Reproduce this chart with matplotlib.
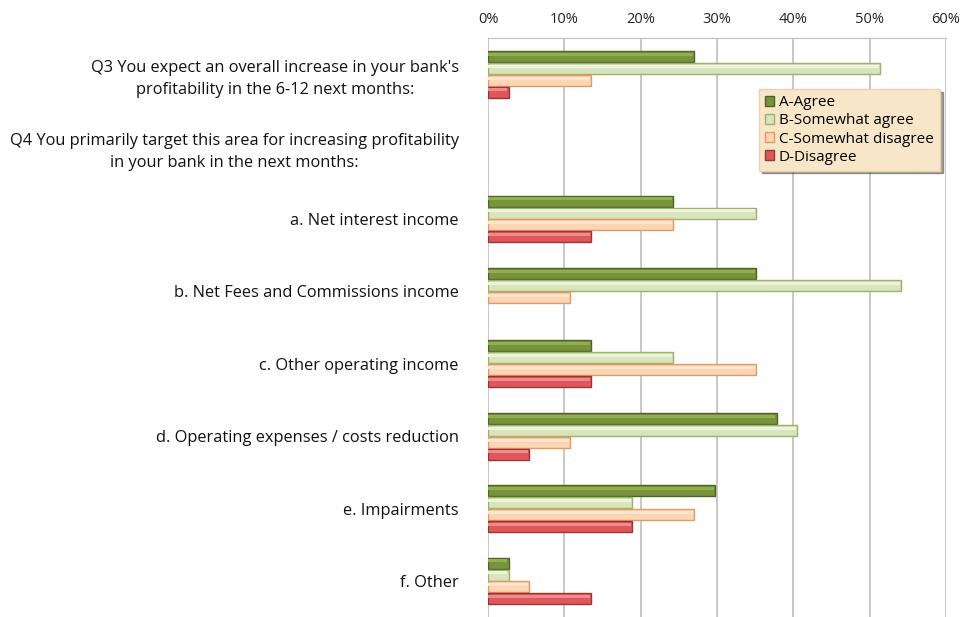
import numpy as np
import matplotlib.pyplot as plt
from matplotlib.patches import Patch

plt.rcParams["font.family"] = ["Open Sans", "DejaVu Sans"]

categories = [
    "Q3 You expect an overall increase in your bank's\nprofitability in the 6-12 next months:",
    "Q4 You primarily target this area for increasing profitability\nin your bank in the next months:",
    "a. Net interest income",
    "b. Net Fees and Commissions income",
    "c. Other operating income",
    "d. Operating expenses / costs reduction",
    "e. Impairments",
    "f. Other",
]
series_names = ["A-Agree", "B-Somewhat agree", "C-Somewhat disagree", "D-Disagree"]

# percent of respondents (Q4 header row is empty)
agree = [27.0, 0, 24.3, 35.1, 13.5, 37.8, 29.7, 2.7]
somewhat_agree = [51.4, 0, 35.1, 54.1, 24.3, 40.5, 18.9, 2.7]
somewhat_disagree = [13.5, 0, 24.3, 10.8, 35.1, 10.8, 27.0, 5.4]
disagree = [2.7, 0, 13.5, 0, 13.5, 5.4, 18.9, 13.5]

values = [agree, somewhat_agree, somewhat_disagree, disagree]
face = ["#77933c", "#d7e4bd", "#fcd5b5", "#e0575b"]
edge = ["#4f6228", "#9bb26a", "#e29a5f", "#953735"]
top_face = ["#8fb04a", "#eef4dc", "#fde6cf", "#f08a8c"]

fig = plt.figure(figsize=(9.63, 6.17), dpi=100)
ax = fig.add_axes([488 / 963, -0.005, (946 - 488) / 963, (617 - 38) / 617 + 0.005])

y = np.arange(len(categories))
h = 0.165
for i, vals in enumerate(values):
    vals = np.array(vals, dtype=float)
    keep = vals > 0
    pos = (y - 1.5 * h + i * h)[keep]
    ax.barh(pos, vals[keep], height=h * 0.92, color=face[i], edgecolor=edge[i],
            linewidth=1.0, zorder=3)
    # light stripe for the glossy look
    ax.barh(pos - h * 0.18, vals[keep] - 0.15, height=h * 0.25, color=top_face[i],
            linewidth=0, zorder=4)

ax.set_xlim(0, 60)
ax.set_ylim(len(categories) - 0.5 + 0.04, -0.5)
ax.set_xticks(range(0, 61, 10))
ax.set_xticklabels([f"{v}%" for v in range(0, 61, 10)])
ax.xaxis.tick_top()
ax.tick_params(axis="x", length=0, pad=8, labelsize=10.5, labelcolor="#222222")
ax.set_yticks(y)
ax.set_yticklabels(categories, fontsize=11.8, multialignment="center", color="#111111")
for lbl in ax.get_yticklabels():
    lbl.set_linespacing(1.5)
ax.tick_params(axis="y", length=0, pad=21)
ax.grid(axis="x", color="#bfbfbf", linewidth=1.2, zorder=0)
for s in ["right", "bottom", "left"]:
    ax.spines[s].set_visible(False)
ax.spines["top"].set_color("#bfbfbf")

handles = [Patch(facecolor=face[i], edgecolor=edge[i], label=series_names[i]) for i in range(4)]
leg = ax.legend(handles=handles, loc="upper left", bbox_to_anchor=(0.575, 0.925),
                fontsize=11, frameon=True, fancybox=False, shadow=True,
                handlelength=0.6, handleheight=0.6, handletextpad=0.3,
                labelspacing=0.2, borderpad=0.4)
leg.get_frame().set_facecolor("#f8e6c8")
leg.get_frame().set_edgecolor("#e6d3b0")

fig.savefig("out.png", dpi=100)
